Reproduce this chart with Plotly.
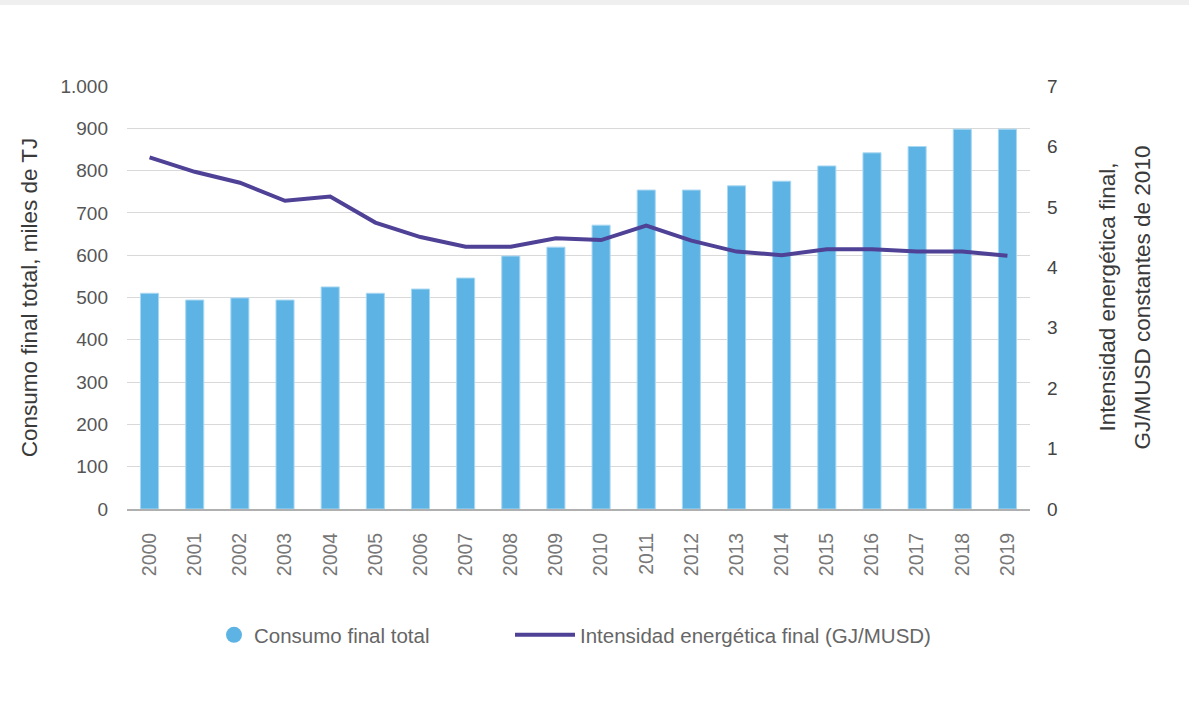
import plotly.graph_objects as go

# Final energy consumption and final energy intensity, 2000-2019
years = [str(y) for y in range(2000, 2020)]
consumo_final = [510, 494, 499, 494, 525, 510, 520, 546, 598, 619,
                 671, 754, 754, 764, 775, 811, 842, 857, 898, 898]
intensidad = [5.82, 5.58, 5.40, 5.10, 5.17, 4.74, 4.50, 4.34, 4.34, 4.48,
              4.45, 4.69, 4.44, 4.26, 4.20, 4.30, 4.30, 4.26, 4.26, 4.19]
left_ticks = [0, 100, 200, 300, 400, 500, 600, 700, 800, 900, 1000]
left_labels = ["0", "100", "200", "300", "400", "500", "600", "700", "800", "900", "1.000"]
right_ticks = [0, 1, 2, 3, 4, 5, 6, 7]
right_title = ["Intensidad energética final,", "GJ/MUSD constantes de 2010"]

BAR_COLOR = "#5db3e4"
LINE_COLOR = "#4e4196"
FONT = "Liberation Sans, Arial, sans-serif"

# plot area in pixels, used to place the legend and the right-hand title
L, R, T, B = 127, 159, 86, 198
PW, PH = 1189 - L - R, 707 - T - B


def px_x(px):
    return (px - L) / PW


def px_y(py):
    return (707 - B - py) / PH


fig = go.Figure()

fig.add_trace(go.Bar(
    x=years, y=consumo_final, name="Consumo final total",
    marker=dict(color=BAR_COLOR, line=dict(color="#a9d8f2", width=1)),
    width=0.4, showlegend=False, yaxis="y",
))
# legend entry with a round marker for the bars
fig.add_trace(go.Scatter(
    x=[None], y=[None], mode="markers", name="Consumo final total",
    marker=dict(color=BAR_COLOR, size=17, symbol="circle"), yaxis="y",
    legend="legend",
))
fig.add_trace(go.Scatter(
    x=years, y=intensidad, mode="lines",
    name="Intensidad energética final (GJ/MUSD)",
    line=dict(color=LINE_COLOR, width=4), yaxis="y2",
    legend="legend2",
))

legend_common = dict(
    orientation="h", yanchor="middle", xanchor="left",
    font=dict(size=20.5, color="#666666"),
    bgcolor="rgba(0,0,0,0)",
)

fig.update_layout(
    width=1189, height=707,
    margin=dict(l=L, r=R, t=T, b=B),
    paper_bgcolor="white", plot_bgcolor="white",
    font=dict(family=FONT, size=19, color="#555555"),
    bargap=0.6,
    xaxis=dict(
        type="category", tickangle=-90,
        tickfont=dict(size=19.5, color="#777777"),
        showgrid=False, showline=True, linecolor="#b0b0b0", linewidth=2,
        ticks="", ticklabelstandoff=14,
    ),
    yaxis=dict(
        range=[0, 1000], tickvals=left_ticks, ticktext=left_labels,
        showgrid=True, gridcolor="#d9d9d9", gridwidth=1,
        zeroline=False, ticks="", ticklabelstandoff=18,
        tickfont=dict(size=19, color="#555555"),
        title=dict(text="Consumo final total, miles de TJ",
                   font=dict(size=22.5, color="#3a3a3a"), standoff=16),
    ),
    yaxis2=dict(
        range=[0, 7], tickvals=right_ticks, overlaying="y", side="right",
        showgrid=False, zeroline=False, ticks="", ticklabelstandoff=16,
        tickfont=dict(size=19, color="#444444"),
    ),
    legend=dict(legend_common, x=px_x(214), y=px_y(635)),
    legend2=dict(legend_common, x=px_x(510), y=px_y(635), itemwidth=60),
    shapes=[dict(
        type="rect", xref="paper", yref="paper",
        x0=px_x(0), x1=px_x(1189), y0=px_y(5), y1=px_y(0),
        fillcolor="#efefef", line=dict(width=0), layer="below",
    )],
    annotations=[
        dict(text=right_title[0], x=px_x(1107), y=0.5, xref="paper", yref="paper",
             textangle=-90, showarrow=False, xanchor="center", yanchor="middle",
             font=dict(size=22.5, color="#3a3a3a")),
        dict(text=right_title[1], x=px_x(1142), y=0.5, xref="paper", yref="paper",
             textangle=-90, showarrow=False, xanchor="center", yanchor="middle",
             font=dict(size=22.5, color="#3a3a3a")),
    ],
)

fig.write_html("out.html")
